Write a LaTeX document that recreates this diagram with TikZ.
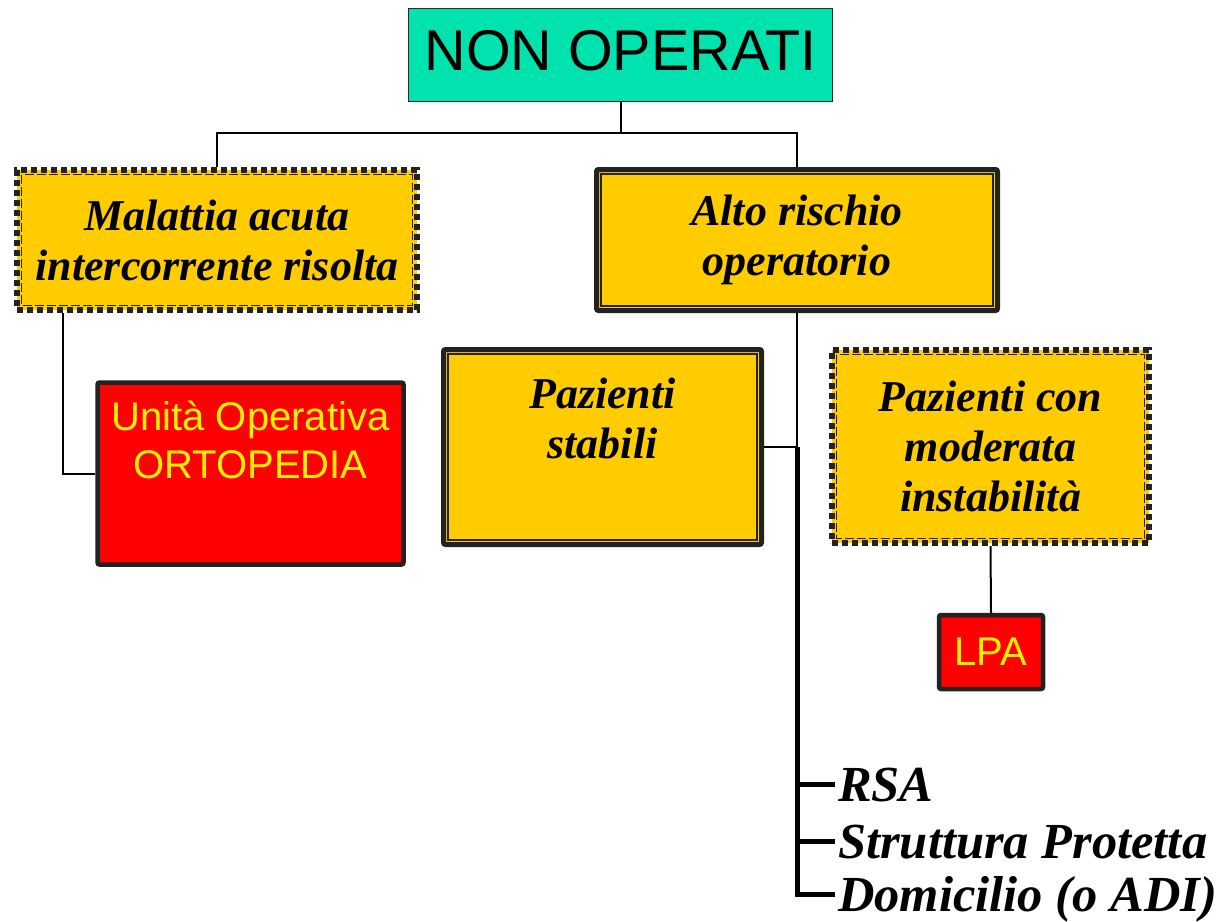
\documentclass[tikz,border=0pt]{standalone}
\usepackage{fontspec}
\setmainfont{Liberation Serif}
\newfontfamily\arial{Liberation Sans}
\usetikzlibrary{positioning,calc}
\usepackage{xcolor}
\definecolor{nonop}{HTML}{00E3AE}
\definecolor{giallo}{HTML}{FFCC00}
\definecolor{rosso}{HTML}{FF0000}
\definecolor{bordo}{HTML}{222222}

\begin{document}
\begin{tikzpicture}[x=1pt,y=-1pt]

	\tikzstyle{topbox}=[draw=bordo, fill=nonop, line width=1.5pt, inner sep=0pt, font=\arial\fontsize{57.5}{60}\selectfont];
	\tikzstyle{dotbox}=[draw=bordo, fill=giallo, line width=6pt, dash pattern=on 6pt off 4pt, inner sep=0pt, align=center, font=\bfseries\itshape\fontsize{44}{50}\selectfont];
	\tikzstyle{dblbox}=[draw=bordo, fill=giallo, line width=5pt, rounded corners=2pt, inner sep=0pt, align=center, font=\bfseries\itshape\fontsize{44}{50}\selectfont];
	\tikzstyle{redbox}=[draw=bordo, fill=rosso, line width=4.5pt, rounded corners=2pt, inner sep=0pt, text=yellow, align=center, font=\arial\fontsize{40}{48}\selectfont];
	\tikzstyle{dest}=[anchor=west, inner sep=3pt, text height=33pt, text depth=0pt, font=\bfseries\itshape\fontsize{50.5}{55}\selectfont];
	\tikzstyle{conn}=[draw=black, line width=2pt];

	\useasboundingbox (0,0) rectangle (1226,921);

	% boxes
	\node (nonop) at (620.5,55) [topbox, minimum width=424pt, minimum height=93pt]{};
	\node (nonop_txt) at (620.5,51) [font=\arial\fontsize{57.5}{60}\selectfont]{NON OPERATI};
	\node (malattia) at (217,240) [dotbox, minimum width=400pt, minimum height=140pt]{Malattia acuta\\intercorrente risolta};
	\node (alto) at (797,240) [dblbox, minimum width=401pt, minimum height=141pt]{Alto rischio\\operatorio};
	\node (stabili) at (602.5,447) [dblbox, minimum width=318pt, minimum height=195pt]{};
	\node (stabili_txt) [below=27pt of stabili.north, align=center, font=\bfseries\itshape\fontsize{44}{50}\selectfont]{Pazienti\\stabili};
	\node (instab) at (990.5,446.5) [dotbox, minimum width=317pt, minimum height=193pt]{Pazienti con\\moderata\\instabilità};
	\node (orto) at (250.5,473.5) [redbox, minimum width=306pt, minimum height=182pt]{};
	\node (orto_txt) [below=17pt of orto.north, align=center, text=yellow, font=\arial\fontsize{40}{48}\selectfont]{Unità Operativa\\ORTOPEDIA};
	\node (lpa) at (991,652) [redbox, minimum width=104pt, minimum height=74pt]{LPA};

	% inner frames
	\foreach \n in {alto,stabili}
		\draw[bordo, line width=2pt] ([shift={(7pt,-7pt)}]\n.north west) rectangle ([shift={(-7pt,7pt)}]\n.south east);
	\foreach \n in {malattia,instab}
		\draw[bordo, line width=1.8pt, dash pattern=on 9pt off 3pt] ([shift={(7.5pt,-7.5pt)}]\n.north west) rectangle ([shift={(-7.5pt,7.5pt)}]\n.south east);

	% destinations
	\node (rsa) at (835,801) [dest, anchor=base west]{RSA};
	\node (struttura) at (835,858) [dest, anchor=base west]{Struttura Protetta};
	\node (domicilio) at (835,911) [dest, anchor=base west]{Domicilio (o ADI)};

	% connectors
	\draw[conn] (nonop.south) -- ++(0,31) -| (malattia.north);
	\draw[conn] (nonop.south) -- ++(0,31) -| (alto.north);
	\draw[conn] (orto.west) -| ([xshift=-154pt]malattia.south);
	\draw[conn] (alto.south) |- (stabili.east);
	\coordinate (fork) at (alto.south |- stabili.east);
	\draw[line width=5pt] (fork) |- (domicilio.west);
	\draw[line width=5pt] (fork |- rsa.west) -- (rsa.west);
	\draw[line width=5pt] (fork |- struttura.west) -- (struttura.west);
	\draw[conn] (instab.south) -- (lpa.north);

\end{tikzpicture}
\end{document}
